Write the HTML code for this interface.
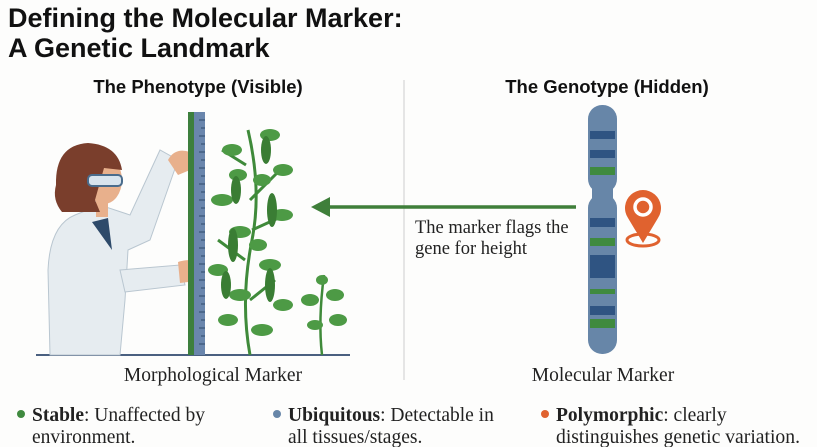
<!DOCTYPE html>
<html><head><meta charset="utf-8"><style>
html,body{margin:0;padding:0;background:#fdfdfc;}
svg{display:block}
.t{font-family:"Liberation Sans",sans-serif;font-weight:bold;fill:#111}
.s{font-family:"Liberation Serif",serif;fill:#222}
</style></head><body>
<svg width="817" height="447" viewBox="0 0 817 447" xmlns="http://www.w3.org/2000/svg">
<rect width="817" height="447" fill="#fdfdfc"/>
<text class="t" x="8" y="27" font-size="27">Defining the Molecular Marker:</text>
<text class="t" x="8" y="57" font-size="27">A Genetic Landmark</text>
<text class="t" x="198" y="93" font-size="18.5" text-anchor="middle">The Phenotype (Visible)</text>
<text class="t" x="607" y="93" font-size="18.5" text-anchor="middle">The Genotype (Hidden)</text>
<line x1="404" y1="80" x2="404" y2="380" stroke="#ddd" stroke-width="1.5"/>
<!-- ground -->
<line x1="36" y1="355" x2="350" y2="355" stroke="#4a6080" stroke-width="2"/>
<!-- scientist -->
<path d="M50 355 L48 270 Q50 225 75 215 L100 205 L130 215 L160 150 L178 160 L150 240 L128 250 L125 300 L120 355 Z" fill="#e6ecf0" stroke="#b9c6d0"/>
<path d="M120 270 L180 265 L185 285 L125 292 Z" fill="#e6ecf0" stroke="#b9c6d0"/>
<path d="M92 222 L108 218 L112 250 Z" fill="#2e4a6a"/>
<rect x="96" y="195" width="12" height="22" fill="#e8b08c"/>
<ellipse cx="104" cy="180" rx="18" ry="24" fill="#e8b08c"/>
<path d="M56 185 Q55 145 88 143 Q118 145 122 170 L104 168 L95 200 L100 212 L62 212 Q52 200 56 185Z" fill="#7a3e2c"/>
<rect x="88" y="175" width="34" height="11" rx="4" fill="#d8e4ee" stroke="#4a6c8c" stroke-width="2"/>
<path d="M168 160 Q175 147 190 152 L190 170 L178 175Z" fill="#e8b08c"/>
<path d="M178 262 Q190 258 205 262 L205 280 L180 283Z" fill="#e8b08c"/>
<!-- ruler -->
<rect x="188" y="112" width="17" height="243" fill="#6a86ad"/>
<rect x="188" y="112" width="6" height="243" fill="#3d7f3d"/>
<g stroke="#2e4a6a" stroke-width="1">
<path d="M199 120h6M201 128h4M199 136h6M201 144h4M199 152h6M201 160h4M199 168h6M201 176h4M199 184h6M201 192h4M199 200h6M201 208h4M199 216h6M201 224h4M199 232h6M201 240h4M199 248h6M201 256h4M199 264h6M201 272h4M199 280h6M201 288h4M199 296h6M201 304h4M199 312h6M201 320h4M199 328h6M201 336h4M199 344h6"/>
</g>
<!-- tall plant -->
<g stroke="#3f8a3a" stroke-width="3" fill="none">
<path d="M250 355 Q240 300 252 240 Q262 190 248 130"/>
<path d="M250 200 L280 170 M245 260 L218 240 M250 300 L275 280 M246 165 L222 150 M252 230 L285 215"/>
</g>
<g fill="#4d9a45">
<ellipse cx="232" cy="150" rx="10" ry="6"/><ellipse cx="270" cy="135" rx="10" ry="6"/><ellipse cx="283" cy="170" rx="10" ry="6"/>
<ellipse cx="222" cy="200" rx="11" ry="6"/><ellipse cx="240" cy="232" rx="11" ry="6"/><ellipse cx="282" cy="215" rx="11" ry="6"/>
<ellipse cx="218" cy="270" rx="10" ry="6"/><ellipse cx="270" cy="265" rx="11" ry="6"/><ellipse cx="240" cy="295" rx="11" ry="6"/>
<ellipse cx="283" cy="305" rx="10" ry="6"/><ellipse cx="228" cy="320" rx="10" ry="6"/><ellipse cx="262" cy="330" rx="11" ry="6"/>
<ellipse cx="262" cy="180" rx="9" ry="6"/><ellipse cx="238" cy="175" rx="9" ry="6"/><ellipse cx="258" cy="245" rx="9" ry="6"/>
</g>
<g fill="#3a7d34">
<ellipse cx="233" cy="245" rx="5" ry="17"/><ellipse cx="272" cy="210" rx="5" ry="17"/><ellipse cx="270" cy="285" rx="5" ry="17"/><ellipse cx="226" cy="285" rx="5" ry="14"/><ellipse cx="266" cy="150" rx="5" ry="14"/><ellipse cx="236" cy="190" rx="5" ry="14"/>
</g>
<!-- small plant -->
<g stroke="#3f8a3a" stroke-width="2.5" fill="none"><path d="M322 355 Q318 320 324 275"/></g>
<g fill="#4d9a45"><ellipse cx="310" cy="300" rx="9" ry="6"/><ellipse cx="335" cy="295" rx="9" ry="6"/><ellipse cx="315" cy="325" rx="8" ry="5"/><ellipse cx="338" cy="320" rx="9" ry="6"/><ellipse cx="322" cy="280" rx="6" ry="5"/></g>
<!-- arrow -->
<line x1="326" y1="207" x2="576" y2="207" stroke="#3f7f3a" stroke-width="3.5"/>
<polygon points="311,207 330,197 330,217" fill="#3f7f3a"/>
<text class="s" x="415" y="233" font-size="18.5">The marker flags the</text>
<text class="s" x="415" y="254" font-size="18.5">gene for height</text>
<!-- chromosome -->
<rect x="588" y="105" width="29" height="88" rx="14" fill="#6786a8"/>
<rect x="588" y="194" width="29" height="160" rx="14" fill="#6786a8"/>
<rect x="592" y="186" width="21" height="14" fill="#6786a8"/>
<g fill="#2f5482"><rect x="590" y="131" width="25" height="8"/><rect x="590" y="150" width="25" height="8"/><rect x="590" y="218" width="25" height="9"/><rect x="590" y="255" width="25" height="23"/><rect x="590" y="306" width="25" height="9"/></g>
<g fill="#3f8a3f"><rect x="590" y="167" width="25" height="8"/><rect x="590" y="238" width="25" height="8"/><rect x="590" y="289" width="25" height="5"/><rect x="590" y="319" width="25" height="9"/></g>
<!-- pin -->
<ellipse cx="643" cy="240" rx="16" ry="6" fill="none" stroke="#e0622f" stroke-width="3"/>
<path d="M643 243 L628 218 A18 18 0 1 1 658 218 Z" fill="#e0622f"/>
<circle cx="643" cy="207" r="8" fill="none" stroke="#fff" stroke-width="3.5"/>
<text class="s" x="213" y="381" font-size="19.5" text-anchor="middle">Morphological Marker</text>
<text class="s" x="603" y="381" font-size="19.5" text-anchor="middle">Molecular Marker</text>
<circle cx="21" cy="414" r="4" fill="#3f8a3f"/>
<circle cx="277" cy="414" r="4" fill="#6786a8"/>
<circle cx="545" cy="414" r="4" fill="#e0622f"/>
<text class="s" x="32" y="421" font-size="19.5"><tspan font-weight="bold">Stable</tspan>: Unaffected by</text>
<text class="s" x="32" y="443" font-size="19.5">environment.</text>
<text class="s" x="288" y="421" font-size="19.5"><tspan font-weight="bold">Ubiquitous</tspan>: Detectable in</text>
<text class="s" x="288" y="443" font-size="19.5">all tissues/stages.</text>
<text class="s" x="556" y="421" font-size="19.5"><tspan font-weight="bold">Polymorphic</tspan>: clearly</text>
<text class="s" x="556" y="443" font-size="19.5" textLength="244" lengthAdjust="spacingAndGlyphs">distinguishes genetic variation.</text>
</svg>
</body></html>
